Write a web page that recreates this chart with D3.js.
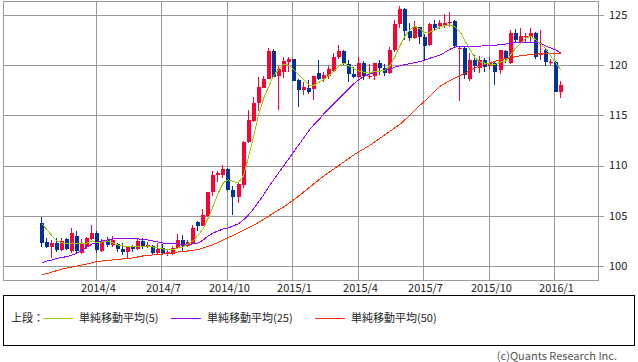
<!DOCTYPE html>
<html>
<head>
<meta charset="utf-8">
<script src="https://cdn.jsdelivr.net/npm/d3@7"></script>
<style>
  body { margin: 0; background: #fff; }
  svg { display: block; font-family: "Noto Sans CJK JP", "Noto Sans", sans-serif; }
</style>
</head>
<body>
<svg width="638" height="362"></svg>
<script>
// weekly candles, first week 2014-01-20
const firstWeek = "2014-01-20";
const opens = [104.31,102.39,101.92,102.3,101.6,102.7,101.5,103.0,101.26,101.9,102.7,103.3,101.5,102.6,102.1,102.2,101.7,101.4,101.9,101.7,
  102.5,102.0,102.0,101.3,101.8,101.3,101.2,101.8,102.6,102.0,102.2,104.4,104.0,105.0,107.4,109.06,109.06,109.7,107.6,106.85,
  108.1,112.4,114.4,116.26,117.7,118.6,121.45,118.9,119.35,120.35,120.6,118.5,117.5,117.76,117.6,119.25,118.6,118.9,119.45,120.8,
  121.45,120.1,119.1,118.8,120.2,118.9,118.9,120.2,119.7,119.2,121.5,124.1,125.6,123.4,122.7,123.8,122.8,122.0,124.1,123.9,
  123.9,124.2,124.4,121.6,121.75,118.6,120.5,119.7,120.5,119.9,120.25,119.5,121.45,120.2,123.2,122.2,122.8,122.8,123.25,121.0,
  121.5,120.2,120.3,117.36];
const highs = [104.91,102.75,102.6,102.8,102.8,102.8,103.75,103.5,102.7,102.9,104.1,103.5,102.7,102.9,103.0,102.3,102.3,101.9,102.1,102.8,
  102.8,102.4,102.1,102.3,102.2,101.7,102.0,103.2,103.1,102.6,104.1,104.5,105.65,107.4,109.5,109.5,110.06,109.8,108.0,108.4,
  112.5,115.5,116.8,118.85,118.9,121.75,121.6,119.9,120.8,120.8,120.6,118.6,118.3,118.5,118.9,120.5,119.3,119.9,121.2,122.0,
  121.5,120.5,119.8,120.8,120.4,120.1,120.0,120.5,120.1,121.8,124.5,125.86,125.7,124.2,124.4,123.8,123.1,124.2,124.5,124.5,
  125.1,125.3,124.5,121.85,121.9,121.2,121.0,120.9,120.7,120.8,120.3,121.5,121.5,123.5,123.6,123.7,123.2,123.7,123.3,123.5,
  121.6,120.6,120.4,118.4];
const lows = [101.86,101.77,100.77,101.4,101.5,101.6,101.3,101.2,101.2,101.7,102.6,101.3,101.4,101.9,101.9,101.4,101.1,100.7,101.4,101.6,
  101.7,101.8,101.2,101.1,101.1,101.0,101.1,101.7,101.5,101.9,102.2,103.5,104.0,104.9,107.0,108.4,108.8,107.5,105.1,106.25,
  107.8,112.3,114.3,115.4,117.7,118.6,118.8,115.5,118.7,119.3,118.45,115.8,117.0,117.1,116.5,118.5,118.3,118.6,119.3,120.6,
  120.0,118.3,118.7,118.7,118.5,118.6,118.5,119.0,118.9,119.1,121.3,123.7,122.5,122.4,122.6,122.1,120.4,121.9,123.5,123.6,
  123.7,123.8,121.8,116.4,118.6,118.4,119.3,119.2,119.3,119.6,118.0,119.1,120.2,120.1,122.2,122.2,122.2,122.2,120.6,120.5,
  119.9,120.0,117.3,116.7];
const closes = [102.26,101.92,102.32,101.6,102.5,101.7,103.25,101.5,102.16,102.8,103.25,101.6,102.4,102.1,102.6,101.7,101.4,101.9,101.7,102.5,
  101.9,102.1,101.3,101.7,101.3,101.35,101.8,102.6,102.0,102.4,103.8,104.0,105.1,107.4,109.06,109.3,109.7,107.6,106.85,108.2,
  112.4,114.55,116.2,117.8,118.6,121.45,118.8,119.6,120.4,120.6,118.45,117.5,117.8,117.3,118.9,118.6,119.0,119.6,120.8,121.45,
  120.1,119.1,118.8,120.2,118.9,118.95,120.2,119.7,119.2,121.5,124.1,125.6,123.4,122.7,123.8,122.8,121.9,124.1,123.7,124.2,
  124.2,124.3,121.9,121.7,119.0,120.5,119.9,120.5,119.8,120.2,119.35,121.5,120.6,123.2,122.5,122.9,122.9,123.25,120.85,121.25,
  120.35,120.35,117.36,118.0];
// moving averages, one value per week
const ma5 = [104.2,103.6,103.0,102.5,102.3,102.2,102.3,102.2,102.2,102.3,102.5,102.3,102.4,102.5,102.3,102.1,102.0,101.9,101.9,101.9,
  101.9,102.0,101.9,101.8,101.7,101.6,101.6,101.8,101.9,102.2,102.5,103.1,103.7,104.8,106.0,107.3,108.3,108.6,108.4,108.3,
  109.0,110.9,112.9,115.1,116.7,117.9,119.0,119.6,120.1,120.0,119.5,119.0,118.5,118.0,118.0,118.3,118.6,119.0,119.4,120.0,
  120.2,119.9,119.6,119.4,119.3,119.2,119.4,119.4,119.5,119.9,120.8,121.9,122.9,123.5,123.9,123.6,123.2,123.3,123.5,123.8,
  124.0,124.0,123.8,123.3,122.4,121.5,120.7,120.3,120.2,120.1,120.1,120.3,120.4,121.0,121.7,122.2,122.7,122.9,122.5,122.1,
  121.6,120.9,120.2,119.5];
const ma25 = [100.35,100.5,100.6,100.75,100.85,100.95,101.1,101.3,101.6,101.9,102.2,102.4,102.5,102.6,102.7,102.7,102.7,102.7,102.7,102.7,
  102.65,102.6,102.5,102.4,102.3,102.2,102.2,102.2,102.15,102.15,102.2,102.3,102.6,103.0,103.3,103.5,103.7,103.8,104.0,104.2,
  104.6,105.1,105.7,106.4,107.1,107.9,108.6,109.3,110.0,110.7,111.4,112.1,112.8,113.5,114.1,114.6,115.2,115.7,116.2,116.7,
  117.2,117.7,118.2,118.6,118.9,119.1,119.3,119.4,119.5,119.6,119.8,119.95,120.05,120.15,120.25,120.35,120.5,120.7,120.85,121.0,
  121.3,121.6,121.8,121.85,121.85,121.85,121.9,121.9,121.95,122.0,122.0,122.05,122.1,122.2,122.3,122.3,122.3,122.3,122.25,122.2,
  121.9,121.7,121.5,121.2];
const ma50 = [99.1,99.25,99.4,99.55,99.7,99.8,99.9,100.0,100.1,100.2,100.35,100.45,100.5,100.55,100.6,100.65,100.7,100.75,100.8,100.9,
  101.0,101.05,101.1,101.15,101.2,101.25,101.3,101.4,101.45,101.5,101.55,101.65,101.8,101.95,102.15,102.35,102.6,102.85,103.05,103.3,
  103.55,103.8,104.05,104.35,104.65,104.95,105.3,105.6,105.9,106.25,106.6,107.0,107.4,107.8,108.2,108.6,109.0,109.35,109.7,110.05,
  110.4,110.75,111.1,111.4,111.7,112.0,112.35,112.7,113.05,113.4,113.75,114.1,114.55,115.0,115.5,116.0,116.45,116.95,117.45,117.9,
  118.2,118.5,118.75,119.0,119.25,119.5,119.75,119.95,120.1,120.25,120.4,120.55,120.65,120.75,120.85,120.95,121.0,121.05,121.1,121.15,
  121.2,121.2,121.2,121.2];
const yTicks = [100, 105, 110, 115, 120, 125];
const legendItems = [
  { label: "単純移動平均(5)", color: "#99cc00" },
  { label: "単純移動平均(25)", color: "#9900ff" },
  { label: "単純移動平均(50)", color: "#ff3300" }
];

const svg = d3.select("svg");
const plot = { left: 3, right: 598, top: 1, bottom: 280 };
const gridColor = "#999999";

const start = d3.utcParse("%Y-%m-%d")(firstWeek);
const weeks = opens.map((d, i) => d3.utcDay.offset(start, 7 * i));
const data = weeks.map((w, i) => ({ i, date: w, o: opens[i], h: highs[i], l: lows[i], c: closes[i] }));

const x = d3.scaleLinear().domain([0, data.length - 1]).range([42, 561]);
const y = d3.scaleLinear().domain([100, 125]).range([266, 15]);

// first candle of each quarter carries the date label
const quarterTicks = data.filter((d, i) => i > 0 && d.date.getUTCMonth() % 3 === 0 &&
  weeks[i - 1].getUTCMonth() !== d.date.getUTCMonth()).map(d => d.i);
const fmt = d3.utcFormat("%Y/%-m");
const gx = i => Math.floor(x(i)) - 0.5;

const grid = svg.append("g").attr("stroke", gridColor).attr("stroke-width", 1);
yTicks.forEach(t => {
  const yy = Math.round(y(t)) + 0.5;
  grid.append("line").attr("x1", plot.left).attr("x2", plot.right + 6).attr("y1", yy).attr("y2", yy);
});
quarterTicks.forEach(t => {
  grid.append("line").attr("x1", gx(t)).attr("x2", gx(t)).attr("y1", plot.top).attr("y2", plot.bottom);
});
svg.append("rect")
  .attr("x", plot.left + 0.5).attr("y", plot.top + 0.5)
  .attr("width", plot.right - plot.left).attr("height", plot.bottom - plot.top)
  .attr("fill", "none").attr("stroke", gridColor);

const yAxis = svg.append("g").attr("font-size", 11).attr("fill", "#222");
yTicks.forEach(t => {
  yAxis.append("text").attr("x", 609).attr("y", y(t)).attr("dy", "0.35em").text(t);
});
const xAxis = svg.append("g").attr("font-size", 11).attr("fill", "#222").attr("text-anchor", "middle");
quarterTicks.forEach(t => {
  xAxis.append("text").attr("x", gx(t) + 2).attr("y", 292).text(fmt(weeks[t]));
});

// candles
const cw = 4;
const candles = svg.append("g").attr("shape-rendering", "crispEdges");
candles.selectAll("g").data(data).enter().append("g").each(function (d) {
  const g = d3.select(this);
  const col = d.c >= d.o ? "#ff0033" : "#003399";
  const cx = Math.round(x(d.i));
  g.append("line").attr("x1", cx - 0.5).attr("x2", cx - 0.5)
    .attr("y1", y(d.h)).attr("y2", y(d.l)).attr("stroke", col);
  const top = y(Math.max(d.o, d.c)), bot = y(Math.min(d.o, d.c));
  g.append("rect").attr("x", cx - cw / 2 - 0.5).attr("width", cw)
    .attr("y", top).attr("height", Math.max(1, bot - top)).attr("fill", col);
});

const line = d3.line().x((d, i) => x(i)).y(d => y(d));
[ma50, ma25, ma5].forEach((s, k) => {
  svg.append("path").datum(s).attr("d", line).attr("fill", "none")
    .attr("shape-rendering", "crispEdges")
    .attr("stroke", legendItems[2 - k].color).attr("stroke-width", 1);
});

// legend
const lg = svg.append("g").attr("font-size", 11).attr("fill", "#222");
svg.append("rect").attr("x", 3.5).attr("y", 295.5).attr("width", 631).attr("height", 50)
  .attr("fill", "none").attr("stroke", "#000");
lg.append("text").attr("x", 11).attr("y", 318).attr("dy", "0.35em").text("上段：");
const lx = [43, 171, 315];
legendItems.forEach((it, k) => {
  lg.append("line").attr("x1", lx[k]).attr("x2", lx[k] + 30).attr("y1", 318.5).attr("y2", 318.5)
    .attr("stroke", it.color);
  lg.append("text").attr("x", lx[k] + 36).attr("y", 318).attr("dy", "0.35em").text(it.label);
});
svg.append("text").attr("x", 617).attr("y", 360).attr("text-anchor", "end")
  .attr("font-size", 11).attr("fill", "#555").text("(c)Quants Research Inc.");
</script>
</body>
</html>
